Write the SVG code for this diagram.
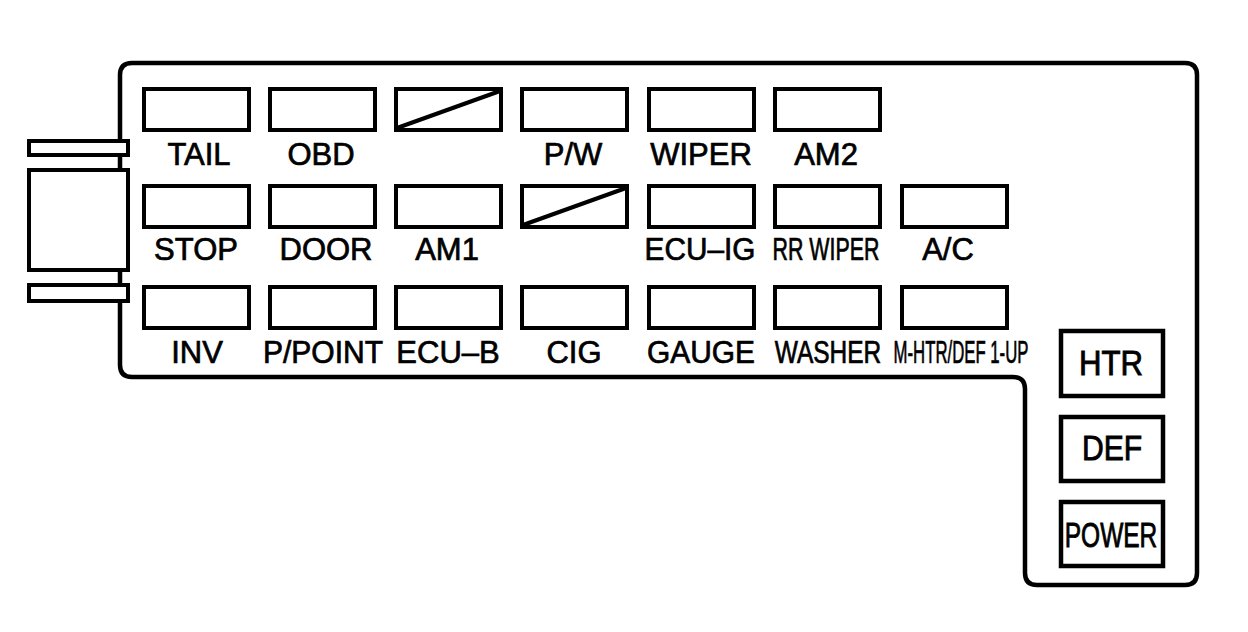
<svg xmlns="http://www.w3.org/2000/svg" width="1248" height="632" viewBox="0 0 1248 632">
<style>
.ol{fill:none;stroke:#000;stroke-width:4.5;stroke-linejoin:round}
.fuse{fill:#fff;stroke:#000;stroke-width:4}
.conn{fill:#fff;stroke:#000;stroke-width:4}
.relay{fill:#fff;stroke:#000;stroke-width:4.5}
.diag{stroke:#000;stroke-width:4;stroke-linecap:butt}
.lbl{font-family:"Liberation Sans",Arial,Helvetica,sans-serif;font-size:31px;fill:#000;stroke:#000;stroke-width:0.7;text-anchor:middle}
.rl{font-family:"Liberation Sans",Arial,Helvetica,sans-serif;font-size:35px;fill:#000;stroke:#000;stroke-width:0.9;text-anchor:middle}
</style>
<rect width="1248" height="632" fill="#fff"/>
<g id="housing">
<path class="ol" d="M132,63 H1185 Q1197,63 1197,75 V573 Q1197,585 1185,585 H1037 Q1025,585 1025,573 V389 Q1025,377 1013,377 H132 Q120,377 120,365 V75 Q120,63 132,63 Z"/>
</g>
<g id="connector">
<rect class="conn" x="29" y="141" width="99" height="14"/>
<rect class="conn" x="29" y="170" width="99" height="100"/>
<rect class="conn" x="29" y="285" width="99" height="16"/>
</g>
<g id="row1">
<g id="f-tail"><rect class="fuse" x="144" y="89" width="105" height="41"/><text class="lbl" x="199" y="165">TAIL</text></g>
<g id="f-obd"><rect class="fuse" x="270" y="89" width="105" height="41"/><text class="lbl" x="321" y="165">OBD</text></g>
<g id="f-empty1"><rect class="fuse" x="396" y="89" width="105" height="41"/><line class="diag" x1="397" y1="128" x2="500" y2="91"/></g>
<g id="f-pw"><rect class="fuse" x="522" y="89" width="105" height="41"/><text class="lbl" x="573" y="165">P/W</text></g>
<g id="f-wiper"><rect class="fuse" x="649" y="89" width="105" height="41"/><text class="lbl" x="701" y="165">WIPER</text></g>
<g id="f-am2"><rect class="fuse" x="775" y="89" width="105" height="41"/><text class="lbl" x="826" y="165">AM2</text></g>
</g>
<g id="row2">
<g id="f-stop"><rect class="fuse" x="144" y="186" width="105" height="41"/><text class="lbl" x="196" y="260">STOP</text></g>
<g id="f-door"><rect class="fuse" x="270" y="186" width="105" height="41"/><text class="lbl" x="326" y="260">DOOR</text></g>
<g id="f-am1"><rect class="fuse" x="396" y="186" width="105" height="41"/><text class="lbl" x="447" y="260">AM1</text></g>
<g id="f-empty2"><rect class="fuse" x="522" y="186" width="105" height="41"/><line class="diag" x1="523" y1="225" x2="626" y2="188"/></g>
<g id="f-ecuig"><rect class="fuse" x="649" y="186" width="105" height="41"/><text class="lbl" transform="translate(700,260) scale(0.96,1)">ECU–IG</text></g>
<g id="f-rrwiper"><rect class="fuse" x="775" y="186" width="105" height="41"/><text class="lbl" transform="translate(826,260) scale(0.69,1)">RR WIPER</text></g>
<g id="f-ac"><rect class="fuse" x="902" y="186" width="105" height="41"/><text class="lbl" x="948" y="260">A/C</text></g>
</g>
<g id="row3">
<g id="f-inv"><rect class="fuse" x="144" y="287" width="105" height="41"/><text class="lbl" x="197" y="363">INV</text></g>
<g id="f-ppoint"><rect class="fuse" x="270" y="287" width="105" height="41"/><text class="lbl" transform="translate(323,363) scale(0.97,1)">P/POINT</text></g>
<g id="f-ecub"><rect class="fuse" x="396" y="287" width="105" height="41"/><text class="lbl" x="448" y="363">ECU–B</text></g>
<g id="f-cig"><rect class="fuse" x="522" y="287" width="105" height="41"/><text class="lbl" x="574" y="363">CIG</text></g>
<g id="f-gauge"><rect class="fuse" x="649" y="287" width="105" height="41"/><text class="lbl" transform="translate(701,363) scale(0.965,1)">GAUGE</text></g>
<g id="f-washer"><rect class="fuse" x="775" y="287" width="105" height="41"/><text class="lbl" transform="translate(828,363) scale(0.79,1)">WASHER</text></g>
<g id="f-mhtr"><rect class="fuse" x="902" y="287" width="105" height="41"/><text class="lbl" transform="translate(961,363) scale(0.54,1)">M-HTR/DEF 1-UP</text></g>
</g>
<g id="relays">
<g id="r-htr"><rect class="relay" x="1061" y="331" width="102" height="65"/><text class="rl" transform="translate(1111,375) scale(0.89,1)">HTR</text></g>
<g id="r-def"><rect class="relay" x="1061" y="417" width="102" height="64"/><text class="rl" transform="translate(1112,460) scale(0.86,1)">DEF</text></g>
<g id="r-power"><rect class="relay" x="1061" y="502" width="102" height="64"/><text class="rl" transform="translate(1111,547) scale(0.7,1)">POWER</text></g>
</g>
<g id="connectors"></g>
</svg>
